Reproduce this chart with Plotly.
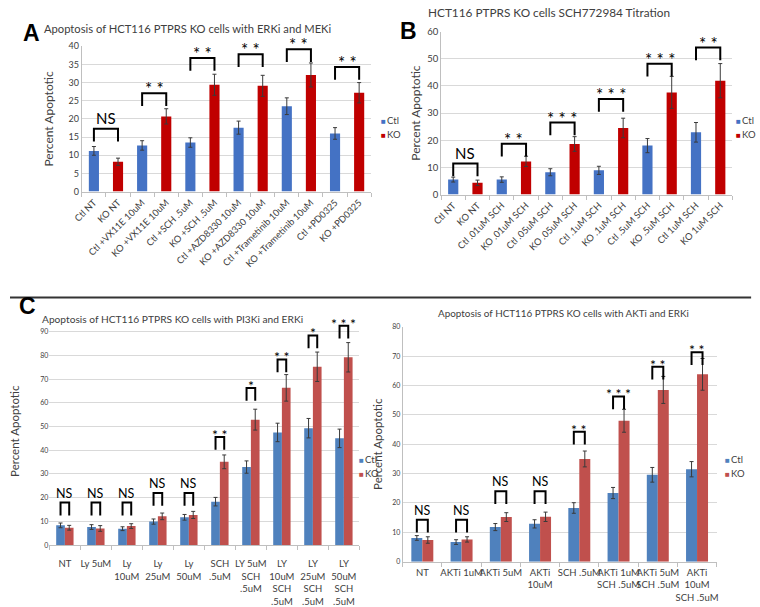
import plotly.graph_objects as go

W, H = 760, 607
FONT = "Lato"
BLUE_AB, RED_AB = "#4472C4", "#C00000"
BLUE_CD, RED_CD = "#4F81BD", "#C0504D"

# ---- panel A: ERKi and MEKi
a_labels = ["Ctl NT", "KO NT", "Ctl +VX11E 10uM", "KO +VX11E 10uM", "Ctl +SCH .5uM", "KO +SCH .5uM",
            "Ctl +AZD8330 10uM", "KO +AZD8330 10uM", "Ctl +Trametinib 10uM", "KO +Trametinib 10uM",
            "Ctl +PD0325", "KO +PD0325"]
a_ctl = [11.2, 12.7, 13.5, 17.6, 23.5, 16.0]
a_ctl_err = [1.2, 1.3, 1.3, 1.8, 2.3, 1.6]
a_ko = [8.2, 20.7, 29.4, 29.1, 32.1, 27.2]
a_ko_err = [1.0, 2.1, 2.9, 2.9, 3.3, 2.8]
a_sig = ["NS", "**", "**", "**", "**", "**"]
a_bracket = [17.3, 27.1, 36.8, 37.8, 39.2, 34.3]

# ---- panel B: SCH772984 titration
b_labels = ["Ctl NT", "KO NT", "Ctl .01uM SCH", "KO .01uM SCH", "Ctl .05uM SCH", "KO .05uM SCH",
            "Ctl .1uM SCH", "KO .1uM SCH", "Ctl .5uM SCH", "KO .5uM SCH", "Ctl 1uM SCH", "KO 1uM SCH"]
b_ctl = [5.5, 5.5, 8.2, 8.9, 18.0, 22.9]
b_ctl_err = [0.9, 1.0, 1.3, 1.5, 2.6, 3.6]
b_ko = [4.3, 12.2, 18.6, 24.5, 37.6, 41.9]
b_ko_err = [1.0, 1.9, 2.7, 3.6, 5.9, 6.3]
b_sig = ["NS", "**", "***", "***", "***", "**"]
b_bracket = [11.4, 18.7, 26.5, 35.2, 48.1, 54.1]

# ---- panel C: PI3Ki and ERKi
c_labels = ["NT", "Ly 5uM", "Ly<br>10uM", "Ly<br>25uM", "Ly<br>50uM", "SCH<br>.5uM",
            "LY 5uM<br>SCH<br>.5uM", "LY<br>10uM<br>SCH<br>.5uM", "LY<br>25uM<br>SCH<br>.5uM",
            "LY<br>50uM<br>SCH<br>.5uM"]
c_ctl = [8.3, 7.6, 6.9, 9.9, 11.7, 18.3, 32.9, 47.5, 49.3, 45.0]
c_ctl_err = [1.0, 1.0, 0.8, 1.1, 1.2, 1.8, 2.6, 3.9, 4.1, 3.9]
c_ko = [7.3, 7.0, 8.0, 12.1, 12.7, 35.1, 52.9, 66.3, 75.2, 79.2]
c_ko_err = [1.0, 1.2, 1.0, 1.4, 1.5, 2.9, 4.4, 5.6, 6.2, 6.2]
c_sig = ["NS", "NS", "NS", "NS", "NS", "**", "*", "**", "*", "***"]
c_bracket = [17.9, 17.9, 17.9, 22.0, 22.0, 45.6, 66.2, 78.3, 88.4, 92.5]

# ---- panel D: AKTi and ERKi
d_labels = ["NT", "AKTi 1uM", "AKTi 5uM", "AKTi<br>10uM", "SCH .5uM", "AKTi 1uM<br>SCH .5uM",
            "AKTi 5uM<br>SCH .5uM", "AKTi<br>10uM<br>SCH .5uM"]
d_ctl = [8.1, 6.7, 11.8, 12.9, 18.3, 23.4, 29.6, 31.5]
d_ctl_err = [0.8, 0.8, 1.2, 1.4, 1.8, 1.9, 2.5, 2.6]
d_ko = [7.4, 7.6, 15.2, 15.3, 35.0, 48.0, 58.5, 63.8]
d_ko_err = [1.1, 0.9, 1.5, 1.6, 2.7, 3.9, 4.6, 5.4]
d_sig = ["NS", "NS", "NS", "NS", "**", "***", "**", "**"]
d_bracket = [14.3, 14.3, 24.0, 24.0, 44.3, 56.3, 66.4, 71.3]


def dom(x0, x1, y0, ytop, vtop, vmax):
    # pixel box of the plot -> paper domains
    ppu = (y0 - ytop) / vtop
    top = y0 - vmax * ppu
    return [x0 / W, x1 / W], [1 - y0 / H, 1 - top / H], ppu


fig = go.Figure()
annos = []
shapes = []

panels = [
    dict(n="", labels=a_labels, ctl=a_ctl, ce=a_ctl_err, ko=a_ko, ke=a_ko_err, sig=a_sig, br=a_bracket,
         box=(73, 367, 189, 41), vtop=40, vmax=40, dtick=5, col=(BLUE_AB, RED_AB), paired=False,
         tfs=9.3, yfs=9, sfs=(15, 17), standoff=12, ticklen=1),
    dict(n="2", labels=b_labels, ctl=b_ctl, ce=b_ctl_err, ko=b_ko, ke=b_ko_err, sig=b_sig, br=b_bracket,
         box=(438, 734, 192, 26), vtop=60, vmax=60, dtick=10, col=(BLUE_AB, RED_AB), paired=False,
         tfs=9.3, yfs=9.5, sfs=(15, 17), standoff=3, ticklen=1),
    dict(n="3", labels=c_labels, ctl=c_ctl, ce=c_ctl_err, ko=c_ko, ke=c_ko_err, sig=c_sig, br=c_bracket,
         box=(40, 355, 549, 331.7), vtop=90, vmax=96, dtick=10, col=(BLUE_CD, RED_CD), paired=True,
         tfs=9.5, yfs=7, sfs=(12.5, 14), standoff=18, ticklen=10),
    dict(n="4", labels=d_labels, ctl=d_ctl, ce=d_ctl_err, ko=d_ko, ke=d_ko_err, sig=d_sig, br=d_bracket,
         box=(399, 718, 566, 326.7), vtop=80, vmax=80, dtick=10, col=(BLUE_CD, RED_CD), paired=True,
         tfs=9.5, yfs=7, sfs=(12.5, 14), standoff=7, ticklen=2),
]

layout_axes = {}
for p in panels:
    n = p["n"]
    xd, yd, ppu = dom(*p["box"], p["vtop"], p["vmax"])
    k = len(p["ctl"])
    if p["paired"]:
        bw = 0.28
        xc = [i - bw / 2 for i in range(k)]
        xk = [i + bw / 2 for i in range(k)]
        tickvals = list(range(k))
        xr = [-0.5, k - 0.5]
    else:
        bw = 0.42
        xc = [2 * i for i in range(k)]
        xk = [2 * i + 1 for i in range(k)]
        tickvals = list(range(2 * k))
        xr = [-0.5, 2 * k - 0.5]
    for x, y, e, c in ((xc, p["ctl"], p["ce"], p["col"][0]), (xk, p["ko"], p["ke"], p["col"][1])):
        fig.add_trace(go.Bar(
            x=x, y=y, width=bw, marker_color=c, marker_line_width=0,
            error_y=dict(type="data", array=e, color="#3a3a3a", thickness=1, width=2),
            xaxis="x" + n, yaxis="y" + n, showlegend=False,
        ))
    layout_axes["xaxis" + n] = dict(
        domain=xd, range=xr, anchor="y" + n, tickmode="array", tickvals=tickvals,
        ticktext=p["labels"], tickangle=0 if p["paired"] else -45,
        ticks="outside", ticklen=p["ticklen"], tickcolor="rgba(0,0,0,0)",
        tickfont=dict(size=p["tfs"], color="#404040", family=FONT),
        showline=True, linecolor="#bfbfbf", linewidth=1, showgrid=False, zeroline=False,
        minor=dict(ticks="outside", ticklen=4, tickcolor="#bfbfbf", tick0=0.5, dtick=1, showgrid=False),
    )
    layout_axes["yaxis" + n] = dict(
        domain=yd, range=[0, p["vmax"]], anchor="x" + n, tickmode="linear", tick0=0, dtick=p["dtick"],
        showgrid=True, gridcolor="#d9d9d9", gridwidth=1, zeroline=False,
        showline=p["vmax"] == p["vtop"], linecolor="#bfbfbf", linewidth=1,
        ticks="", tickfont=dict(size=p["yfs"], color="#404040", family=FONT),
        title=dict(text="Percent Apoptotic",
                   font=dict(size=12 if not p["paired"] else 11.5, color="#404040", family=FONT),
                   standoff=p["standoff"]),
    )
    # significance brackets
    leg = 13 / ppu
    for i, (s, top) in enumerate(zip(p["sig"], p["br"])):
        x0, x1 = xc[i], xk[i]
        shapes.append(dict(type="path", xref="x" + n, yref="y" + n,
                           path=f"M{x0},{top - leg} L{x0},{top} L{x1},{top} L{x1},{top - leg}",
                           line=dict(color="black", width=2)))
        ns = s == "NS"
        annos.append(dict(x=(x0 + x1) / 2, y=top, xref="x" + n, yref="y" + n,
                          text=s if ns else " ".join(s), showarrow=False,
                          yanchor="bottom", yshift=0 if ns else -8,
                          font=dict(size=p["sfs"][0] if ns else p["sfs"][1], color="black", family=FONT)))

fig.update_layout(**layout_axes)

# titles and panel letters
texts = [
    ("Apoptosis of HCT116 PTPRS KO cells with ERKi and MEKi", 181, 23, 11.2),
    ("HCT116 PTPRS KO cells SCH772984 Titration", 548, 7, 11.8),
    ("Apoptosis of HCT116 PTPRS KO cells with PI3Ki and ERKi", 165, 319, 10.2),
    ("Apoptosis of HCT116 PTPRS KO cells with AKTi and ERKi", 562, 313, 9.9),
]
for t, x, y, s in texts:
    annos.append(dict(text=t, x=x / W, y=1 - y / H, xref="paper", yref="paper", showarrow=False,
                      xanchor="center", yanchor="middle", font=dict(size=s, color="#404040", family=FONT)))
for t, x, y in (("A", 22, 27), ("B", 405, 25), ("C", 18, 306)):
    annos.append(dict(text=f"<b>{t}</b>", x=x / W, y=1 - y / H, xref="paper", yref="paper", showarrow=False,
                      xanchor="center", yanchor="middle",
                      font=dict(size=23, color="black", family="Liberation Sans")))

# legends (small coloured squares + series names)
for x, y, cols in ((377, 117, (BLUE_AB, RED_AB)), (738, 117, (BLUE_AB, RED_AB)),
                   (355, 462, (BLUE_CD, RED_CD)), (726, 462, (BLUE_CD, RED_CD))):
    for j, (name, c) in enumerate(zip(["Ctl", "KO"], cols)):
        annos.append(dict(text=f"<span style='font-size:8px;color:{c}'>■</span>\u2009{name}",
                          x=x / W, y=1 - (y + 14 * j) / H,
                          xref="paper", yref="paper", showarrow=False, xanchor="left", yanchor="middle",
                          xshift=-2, font=dict(size=9.5, color="#404040", family=FONT)))

# divider between the upper and lower panels
shapes.append(dict(type="line", xref="paper", yref="paper", x0=0, x1=753 / W, y0=1 - 297 / H, y1=1 - 297 / H,
                   line=dict(color="#333333", width=2)))

fig.update_layout(
    width=W, height=H, margin=dict(l=0, r=0, t=0, b=0),
    paper_bgcolor="white", plot_bgcolor="white",
    barmode="overlay", showlegend=False,
    annotations=annos, shapes=shapes,
    font=dict(family=FONT, color="#404040"),
)
fig.write_html("out.html", config={"displayModeBar": False},
               post_script="document.body.style.margin='0';")
